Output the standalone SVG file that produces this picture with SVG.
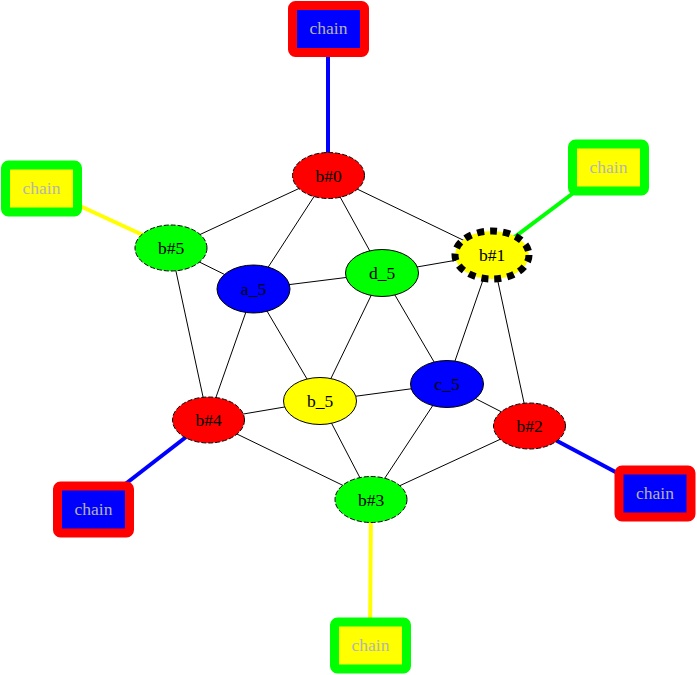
<svg xmlns="http://www.w3.org/2000/svg" width="697" height="675" viewBox="0 0 697 675">
<style>
text{font-family:"Liberation Serif","Times New Roman",serif;font-size:17.5px;text-anchor:middle;dominant-baseline:central}
.n ellipse{stroke:#000;stroke-width:1}
.d ellipse{stroke-dasharray:5,2}
.e line{stroke:#000;stroke-width:1}
.c rect{stroke-width:9}
.c text{fill:#b4b4b4}
.red{fill:#f00}.blue{fill:#00f}.green{fill:#0f0}.yellow{fill:#ff0}
</style>
<rect width="697" height="675" fill="#fff"/>
<g id="edges" class="e">
<line x1="328" y1="175" x2="171" y2="248"/>
<line x1="328" y1="175" x2="254" y2="289"/>
<line x1="328" y1="175" x2="382" y2="273"/>
<line x1="328" y1="175" x2="492" y2="254"/>
<line x1="171" y1="248" x2="254" y2="289"/>
<line x1="171" y1="248" x2="208" y2="420"/>
<line x1="254" y1="289" x2="382" y2="273"/>
<line x1="254" y1="289" x2="208" y2="420"/>
<line x1="254" y1="289" x2="320" y2="401"/>
<line x1="382" y1="273" x2="492" y2="254"/>
<line x1="382" y1="273" x2="320" y2="401"/>
<line x1="382" y1="273" x2="447" y2="384"/>
<line x1="492" y1="254" x2="447" y2="384"/>
<line x1="492" y1="254" x2="529" y2="426"/>
<line x1="447" y1="384" x2="320" y2="401"/>
<line x1="447" y1="384" x2="529" y2="426"/>
<line x1="447" y1="384" x2="371" y2="499"/>
<line x1="320" y1="401" x2="208" y2="420"/>
<line x1="320" y1="401" x2="371" y2="499"/>
<line x1="208" y1="420" x2="371" y2="499"/>
<line x1="371" y1="499" x2="529" y2="426"/>
<line x1="328" y1="175" x2="328" y2="28" style="stroke:#00f;stroke-width:4"/>
<line x1="492" y1="254" x2="608" y2="167" style="stroke:#0f0;stroke-width:4"/>
<line x1="529" y1="426" x2="655" y2="493" style="stroke:#00f;stroke-width:4"/>
<line x1="371" y1="499" x2="370" y2="645" style="stroke:#ff0;stroke-width:4"/>
<line x1="208" y1="420" x2="93" y2="509" style="stroke:#00f;stroke-width:4"/>
<line x1="171" y1="248" x2="41" y2="188" style="stroke:#ff0;stroke-width:4"/>
</g>
<g id="chain0" class="c"><rect x="292.5" y="5.5" width="72" height="47" rx="3" class="blue" stroke="#f00"/><text x="328.5" y="28">chain</text></g>
<g id="chain1" class="c"><rect x="572.5" y="144" width="72" height="47" rx="3" class="yellow" stroke="#0f0"/><text x="608.5" y="167">chain</text></g>
<g id="chain2" class="c"><rect x="619" y="470" width="72" height="47" rx="3" class="blue" stroke="#f00"/><text x="655" y="493">chain</text></g>
<g id="chain3" class="c"><rect x="334.5" y="622" width="72" height="47" rx="3" class="yellow" stroke="#0f0"/><text x="370.5" y="645">chain</text></g>
<g id="chain4" class="c"><rect x="57.5" y="486" width="72" height="47" rx="3" class="blue" stroke="#f00"/><text x="93.5" y="509">chain</text></g>
<g id="chain5" class="c"><rect x="5.5" y="165" width="72" height="47" rx="3" class="yellow" stroke="#0f0"/><text x="41.5" y="188">chain</text></g>
<g id="b0" class="n d"><ellipse cx="328.5" cy="175.5" rx="36" ry="23" class="red"/><text x="328.5" y="175.5">b#0</text></g>
<g id="b1" class="n"><ellipse cx="492" cy="255" rx="37" ry="24" class="yellow" style="stroke-width:7;stroke-dasharray:7,6"/><text x="492" y="255">b#1</text></g>
<g id="b2" class="n d"><ellipse cx="529.5" cy="426" rx="36" ry="23" class="red"/><text x="529.5" y="426">b#2</text></g>
<g id="b3" class="n d"><ellipse cx="371" cy="499.5" rx="36" ry="23" class="green"/><text x="371" y="499.5">b#3</text></g>
<g id="b4" class="n d"><ellipse cx="208.5" cy="420" rx="36" ry="23" class="red"/><text x="208.5" y="420">b#4</text></g>
<g id="b5" class="n d"><ellipse cx="171" cy="248" rx="36" ry="23" class="green"/><text x="171" y="248">b#5</text></g>
<g id="a5" class="n"><ellipse cx="253.5" cy="289" rx="36.5" ry="24" class="blue"/><text x="253.5" y="289">a_5</text></g>
<g id="d5" class="n"><ellipse cx="382" cy="273" rx="36.5" ry="23.5" class="green"/><text x="382" y="273">d_5</text></g>
<g id="c5" class="n"><ellipse cx="447" cy="384" rx="36.5" ry="23.5" class="blue"/><text x="447" y="384">c_5</text></g>
<g id="b_5" class="n"><ellipse cx="320" cy="401" rx="36.5" ry="23.5" class="yellow"/><text x="320" y="401">b_5</text></g>
</svg>
